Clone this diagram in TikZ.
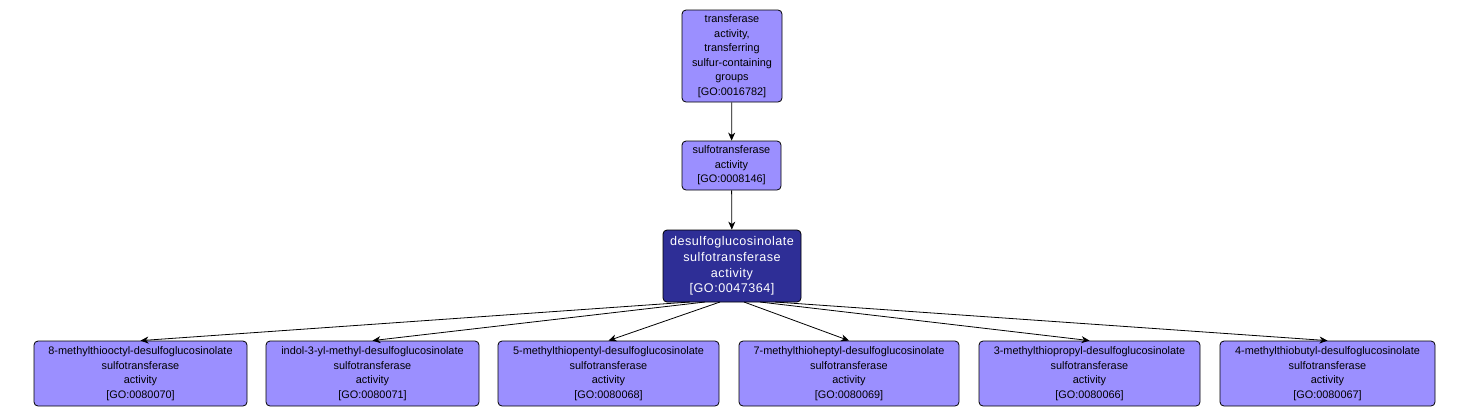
\documentclass[tikz,border=0pt]{standalone}
\usepackage{fontspec}
\setmainfont{Liberation Sans}
\newfontfamily\spacedsans[LetterSpace=4]{Liberation Sans}
\usetikzlibrary{arrows.meta}
\definecolor{lightnode}{RGB}{155,143,255}
\definecolor{darknode}{RGB}{46,46,150}
\begin{document}
\begin{tikzpicture}[x=1pt,y=-1pt,
  term/.style={draw=black, line width=0.8pt, fill=lightnode, rounded corners=4pt,
    inner sep=0pt, align=center, font=\fontsize{10.9}{14.5}\selectfont},
  focus/.style={term, fill=darknode, text=white, font=\spacedsans\fontsize{12.6}{15.6}\selectfont},
  edge/.style={draw=black, line width=0.8pt, -{Stealth[length=8pt,width=7pt,inset=2.5pt]}}]
\useasboundingbox (0,0) rectangle (1470,416);
\node[term, minimum width=100pt, minimum height=92pt] (t) at (732,56)
  {transferase\\activity,\\transferring\\sulfur-containing\\groups\\{[GO:0016782]}};
\node[term, minimum width=99pt, minimum height=49pt] (s) at (731.5,165.5)
  {sulfotransferase\\activity\\{[GO:0008146]}};
\node[focus, minimum width=138pt, minimum height=72pt] (d) at (732,266)
  {desulfoglucosinolate\\sulfotransferase\\activity\\{[GO:0047364]}};
\coordinate (d1) at (690,302);
\coordinate (d2) at (705,302);
\coordinate (d3) at (720,302);
\coordinate (d4) at (744,302);
\coordinate (d5) at (760,302);
\coordinate (d6) at (775,302);
\node[term, minimum width=213pt, minimum height=65pt] (b1) at (140.5,373.5)
  {8-methylthiooctyl-desulfoglucosinolate\\sulfotransferase\\activity\\{[GO:0080070]}};
\node[term, minimum width=213pt, minimum height=65pt] (b2) at (372.5,373.5)
  {indol-3-yl-methyl-desulfoglucosinolate\\sulfotransferase\\activity\\{[GO:0080071]}};
\node[term, minimum width=221pt, minimum height=65pt] (b3) at (608.5,373.5)
  {5-methylthiopentyl-desulfoglucosinolate\\sulfotransferase\\activity\\{[GO:0080068]}};
\node[term, minimum width=220pt, minimum height=65pt] (b4) at (849,373.5)
  {7-methylthioheptyl-desulfoglucosinolate\\sulfotransferase\\activity\\{[GO:0080069]}};
\node[term, minimum width=221pt, minimum height=65pt] (b5) at (1089.5,373.5)
  {3-methylthiopropyl-desulfoglucosinolate\\sulfotransferase\\activity\\{[GO:0080066]}};
\node[term, minimum width=215pt, minimum height=65pt] (b6) at (1327.5,373.5)
  {4-methylthiobutyl-desulfoglucosinolate\\sulfotransferase\\activity\\{[GO:0080067]}};
\draw[edge] (t) -- (s);
\draw[edge] (s) -- (d);
\foreach \i in {1,...,6} \draw[edge] (d\i) -- (b\i.north);
\end{tikzpicture}
\end{document}
